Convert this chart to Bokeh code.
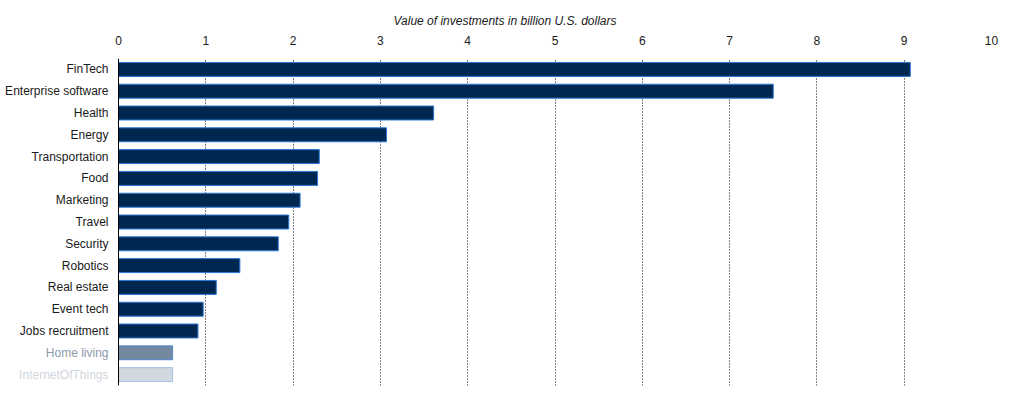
from bokeh.plotting import figure
from bokeh.models import ColumnDataSource, FactorRange, Range1d, FixedTicker, Span, Title
from bokeh.core.properties import value
from bokeh.embed import file_html
from bokeh.resources import INLINE

categories = ["FinTech", "Enterprise software", "Health", "Energy", "Transportation", "Food",
              "Marketing", "Travel", "Security", "Robotics", "Real estate", "Event tech",
              "Jobs recruitment", "Home living", "InternetOfThings"]
values = [9.07, 7.50, 3.61, 3.07, 2.30, 2.28, 2.08, 1.95, 1.83, 1.39, 1.12, 0.97, 0.91, 0.62, 0.62]
x_ticks = [0, 1, 2, 3, 4, 5, 6, 7, 8, 9, 10]

# styling per row (fade-out of the last rows)
bar_alpha = [1.0] * 13 + [0.55, 0.18]
label_colors = ["#1a1a1a"] * 13 + ["#8c9aab", "#d0d6de"]
line_alpha = [1.0] * 13 + [0.7, 0.35]

FONT = "Liberation Sans"

src = ColumnDataSource(dict(cat=categories, val=values, fa=bar_alpha, lc=label_colors,
                            la=line_alpha, zero=[0] * len(categories)))

# left room for category labels inside the frame (118 px at 87.3 px per unit)
x_start = -10 * 118 / 873

p = figure(width=1008, height=392, output_backend="svg", toolbar_location=None,
           y_range=FactorRange(factors=list(reversed(categories)), range_padding=0),
           x_range=Range1d(x_start, 10), x_axis_location="above",
           min_border_left=0, min_border_right=17, min_border_top=58, min_border_bottom=7)
p.outline_line_color = None
p.background_fill_color = "white"
p.yaxis.visible = False

p.xgrid.grid_line_color = "black"
p.xgrid.grid_line_dash = "1 2"
p.xgrid.grid_line_width = 1
p.ygrid.grid_line_color = None

p.hbar(y="cat", right="val", left=0, height=0.64, source=src,
       fill_color="#00274f", fill_alpha="fa", line_color="#2a78d8", line_alpha="la", line_width=1)

p.add_layout(Span(location=0, dimension="height", line_color="black", line_width=1))

p.text(x="zero", y="cat", text="cat", source=src, x_offset=-10,
       text_align="right", text_baseline="middle", text_color="lc",
       text_font=value(FONT), text_font_size="12px")

xa = p.xaxis[0]
xa.ticker = FixedTicker(ticks=x_ticks)
xa.axis_line_color = None
xa.major_tick_line_color = None
xa.minor_tick_line_color = None
xa.major_label_text_font = FONT
xa.major_label_text_font_size = "12px"
xa.major_label_text_color = "#1a1a1a"
xa.major_label_standoff = 8

p.title = Title(text="Value of investments in billion U.S. dollars", align="left", offset=393,
                text_font=FONT, text_font_style="italic", text_font_size="12px",
                text_color="#1a1a1a")

open("out.html", "w").write(file_html(p, INLINE))
